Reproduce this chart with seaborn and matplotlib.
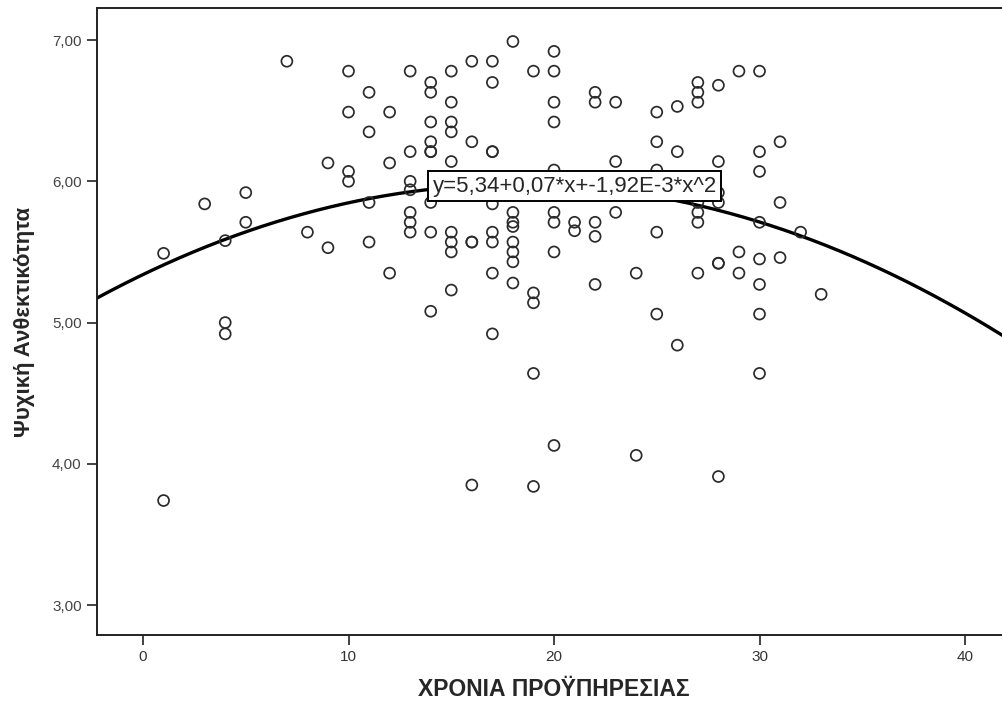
import numpy as np
import pandas as pd
import matplotlib
matplotlib.use("Agg")
import matplotlib.pyplot as plt
import seaborn as sns

# ---- data ----
years = [1, 1,
         3,
         4, 4, 4,
         5, 5,
         7,
         8,
         9, 9,
         10, 10, 10, 10,
         11, 11, 11, 11,
         12, 12, 12,
         13, 13, 13, 13, 13, 13, 13,
         14, 14, 14, 14, 14, 14, 14, 14, 14,
         15, 15, 15, 15, 15, 15, 15, 15, 15,
         16, 16, 16, 16, 16,
         17, 17, 17, 17, 17, 17, 17, 17, 17,
         18, 18, 18, 18, 18, 18, 18, 18,
         19, 19, 19, 19, 19,
         20, 20, 20, 20, 20, 20, 20, 20, 20,
         21, 21,
         22, 22, 22, 22, 22,
         23, 23, 23,
         24, 24,
         25, 25, 25, 25, 25,
         26, 26, 26,
         27, 27, 27, 27, 27, 27, 27, 27,
         28, 28, 28, 28, 28, 28, 28,
         29, 29, 29,
         30, 30, 30, 30, 30, 30, 30, 30,
         31, 31, 31,
         32,
         33]
resilience = [5.49, 3.74,
              5.84,
              5.58, 5.00, 4.92,
              5.92, 5.71,
              6.85,
              5.64,
              6.13, 5.53,
              6.78, 6.49, 6.07, 6.00,
              6.63, 6.35, 5.85, 5.57,
              6.49, 6.13, 5.35,
              6.78, 6.21, 6.00, 5.94, 5.78, 5.71, 5.64,
              6.70, 6.63, 6.42, 6.28, 6.21, 6.21, 5.85, 5.64, 5.08,
              6.78, 6.56, 6.42, 6.35, 6.14, 5.64, 5.57, 5.50, 5.23,
              6.85, 6.28, 5.57, 5.57, 3.85,
              6.85, 6.70, 6.21, 6.21, 5.84, 5.64, 5.57, 5.35, 4.92,
              6.99, 5.78, 5.71, 5.68, 5.57, 5.50, 5.43, 5.28,
              6.78, 5.21, 5.14, 4.64, 3.84,
              6.92, 6.78, 6.56, 6.42, 6.08, 5.78, 5.71, 5.50, 4.13,
              5.71, 5.65,
              6.63, 6.56, 5.71, 5.61, 5.27,
              6.56, 6.14, 5.78,
              5.35, 4.06,
              6.49, 6.28, 6.08, 5.64, 5.06,
              6.53, 6.21, 4.84,
              6.70, 6.63, 6.56, 5.92, 5.85, 5.78, 5.71, 5.35,
              6.68, 6.14, 5.92, 5.85, 5.42, 5.42, 3.91,
              6.78, 5.50, 5.35,
              6.78, 6.21, 6.07, 5.71, 5.45, 5.27, 5.06, 4.64,
              6.28, 5.85, 5.46,
              5.64,
              5.20]

fit_coefs = [5.34, 0.07, -1.92e-3]   # intercept, linear, quadratic
fit_label = "y=5,34+0,07*x+-1,92E-3*x^2"

x_ticks = [0, 10, 20, 30, 40]
x_ticklabels = ["0", "10", "20", "30", "40"]
y_ticks = [3, 4, 5, 6, 7]
y_ticklabels = ["3,00", "4,00", "5,00", "6,00", "7,00"]

x_label = "ΧΡΟΝΙΑ ΠΡΟΫΠΗΡΕΣΙΑΣ"
y_label = "Ψυχική Ανθεκτικότητα"

# ---- plotting ----
sns.set_style("white")
plt.rcParams["font.family"] = ["Liberation Sans", "DejaVu Sans"]
fam = ["Liberation Sans", "DejaVu Sans"]

df = pd.DataFrame({"years": years, "resilience": resilience})

fig = plt.figure(figsize=(10.03, 7.01), dpi=100)
ax = fig.add_axes([97 / 1003, 1 - 635 / 701, (1010 - 97) / 1003, (635 - 8) / 701])

xmin, xmax = -2.24, 42.19
ax.set_xlim(xmin, xmax)
ax.set_ylim(2.788, 7.227)

xs = np.linspace(xmin, xmax, 400)
ys = fit_coefs[0] + fit_coefs[1] * xs + fit_coefs[2] * xs ** 2
sns.lineplot(x=xs, y=ys, ax=ax, color="black", linewidth=2.4, zorder=2)

sns.scatterplot(data=df, x="years", y="resilience", ax=ax, s=62,
                facecolor="none", edgecolor="#2b2b2b", linewidth=1.25,
                zorder=3)

ax.text(14.1, 5.966, fit_label, fontsize=16, va="center", ha="left",
        family=fam, zorder=5,
        bbox=dict(boxstyle="square,pad=0.2", facecolor="white",
                  edgecolor="black", linewidth=1.4))

ax.set_xticks(x_ticks)
ax.set_xticklabels(x_ticklabels, fontsize=11, color="#333333", family=fam)
ax.set_yticks(y_ticks)
ax.set_yticklabels(y_ticklabels, fontsize=11, color="#444444", family=fam)
ax.tick_params(axis="both", direction="out", length=7, width=1.2,
               color="#222222", left=True, bottom=True, pad=4)

ax.set_xlabel(x_label, fontsize=16.5, fontweight="bold", labelpad=10,
              family=fam)
ax.set_ylabel(y_label, fontsize=16, fontweight="bold", labelpad=12,
              family=fam)

for side in ["left", "bottom", "top"]:
    ax.spines[side].set_visible(True)
    ax.spines[side].set_color("#222222")
    ax.spines[side].set_linewidth(1.4)
ax.spines["right"].set_visible(False)

fig.savefig("out.png", dpi=100, facecolor="white")
